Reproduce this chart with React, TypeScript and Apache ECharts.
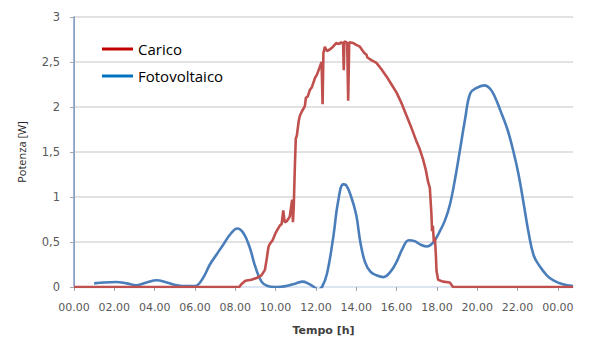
import React, { useEffect, useRef } from "react";
import * as echarts from "echarts";

// Fotovoltaico: [hour, power W]
const pvHours = [1.0, 1.5, 2.1, 2.6, 3.1, 3.6, 4.1, 4.6, 5.1, 5.6, 6.0, 6.4, 6.74, 7.1, 7.4, 7.8, 8.1, 8.4, 8.7, 9.0, 9.3, 9.6, 10.0, 10.5, 11.0, 11.35, 11.6, 11.9, 12.1, 12.3, 12.55, 12.85, 13.1, 13.35, 13.5, 13.75, 14.0, 14.2, 14.43, 14.7, 15.0, 15.35, 15.7, 16.0, 16.3, 16.6, 16.9, 17.2, 17.5, 17.8, 18.1, 18.4, 18.65, 18.9, 19.15, 19.4, 19.65, 19.95, 20.35, 20.65, 20.9, 21.15, 21.5, 21.8, 22.05, 22.3, 22.55, 22.8, 23.1, 23.45, 23.8, 24.25, 24.75];
const pvValues = [0.04, 0.05, 0.055, 0.04, 0.02, 0.05, 0.075, 0.05, 0.02, 0.01, 0.01, 0.1, 0.25, 0.37, 0.47, 0.6, 0.65, 0.6, 0.45, 0.22, 0.06, 0.01, 0.0, 0.01, 0.04, 0.06, 0.04, 0.0, -0.03, 0.0, 0.15, 0.54, 0.95, 1.14, 1.13, 1.0, 0.8, 0.5, 0.28, 0.17, 0.13, 0.11, 0.17, 0.28, 0.43, 0.52, 0.51, 0.47, 0.45, 0.49, 0.6, 0.74, 0.92, 1.2, 1.53, 1.87, 2.15, 2.21, 2.24, 2.2, 2.1, 1.96, 1.75, 1.5, 1.25, 0.93, 0.6, 0.35, 0.23, 0.13, 0.07, 0.03, 0.01];

// Carico: [hour, power W]
const loadHours = [0, 8.2, 8.3, 8.5, 8.8, 9.06, 9.3, 9.47, 9.55, 9.65, 9.72, 9.85, 10.0, 10.05, 10.2, 10.3, 10.38, 10.45, 10.55, 10.7, 10.82, 10.86, 10.9, 10.95, 11.0, 11.05, 11.15, 11.2, 11.3, 11.45, 11.5, 11.6, 11.7, 11.8, 11.95, 12.05, 12.2, 12.28, 12.33, 12.37, 12.44, 12.55, 12.69, 12.85, 13.0, 13.15, 13.25, 13.35, 13.38, 13.41, 13.5, 13.55, 13.6, 13.65, 13.85, 14.0, 14.18, 14.3, 14.4, 14.51, 14.55, 14.75, 15.0, 15.25, 15.5, 15.75, 16.0, 16.25, 16.5, 16.75, 17.0, 17.15, 17.31, 17.45, 17.56, 17.65, 17.73, 17.76, 17.8, 17.85, 17.9, 17.95, 17.98, 18.06, 18.3, 18.64, 18.8, 24.75];
const loadValues = [0, 0, 0.03, 0.07, 0.08, 0.1, 0.13, 0.19, 0.3, 0.45, 0.48, 0.52, 0.6, 0.62, 0.68, 0.7, 0.85, 0.72, 0.73, 0.78, 0.97, 0.72, 0.9, 1.3, 1.65, 1.68, 1.85, 1.9, 1.95, 2.01, 2.1, 2.12, 2.19, 2.22, 2.32, 2.36, 2.45, 2.5, 2.03, 2.6, 2.67, 2.62, 2.64, 2.67, 2.71, 2.7, 2.72, 2.7, 2.41, 2.73, 2.72, 2.71, 2.07, 2.72, 2.71, 2.69, 2.67, 2.63, 2.6, 2.58, 2.55, 2.52, 2.49, 2.42, 2.34, 2.25, 2.16, 2.04, 1.9, 1.76, 1.61, 1.53, 1.42, 1.3, 1.17, 1.1, 0.8, 0.62, 0.68, 0.5, 0.55, 0.35, 0.18, 0.08, 0.06, 0.05, 0.0, 0];

const xTickValues = [0, 2, 4, 6, 8, 10, 12, 14, 16, 18, 20, 22, 24];
const xMax = 24.75;

const seriesNames = ["Carico", "Fotovoltaico"];

export default function App() {
  const ref = useRef<HTMLDivElement>(null);
  useEffect(() => {
    if (!ref.current) return;
    const chart = echarts.init(ref.current, undefined, { renderer: "svg" });
    const labelColor = "#595959";
    const option = {
      animation: false,
      backgroundColor: "#ffffff",
      grid: { left: 74, right: 25, top: 17, bottom: 52, containLabel: false },
      legend: {
        orient: "vertical",
        left: 102,
        top: 40,
        padding: 0,
        icon: "rect",
        itemWidth: 31,
        itemHeight: 3,
        itemGap: 9,
        textStyle: { fontFamily: "Open Sans", fontSize: 15, color: "#000", lineHeight: 18 },
        data: [
          { name: seriesNames[0], itemStyle: { color: "#C00000" } },
          { name: seriesNames[1], itemStyle: { color: "#0070C0" } },
        ],
      },
      xAxis: [
        {
          type: "value",
          min: 0,
          max: xMax,
          name: "Tempo [h]",
          nameLocation: "middle",
          nameGap: 38,
          nameTextStyle: { fontFamily: "DejaVu Sans", fontSize: 11, fontWeight: "bold", color: "#404040" },
          axisLine: { show: true, lineStyle: { color: "#A6A6A6", width: 1 } },
          axisTick: { show: true, length: 4, customValues: xTickValues, lineStyle: { color: "#A6A6A6" } },
          axisLabel: {
            customValues: xTickValues,
            margin: 15,
            fontFamily: "DejaVu Sans",
            fontSize: 11,
            color: labelColor,
            formatter: (v: number) => {
              const h = Math.round(v) % 24;
              return (h < 10 ? "0" : "") + h + ".00";
            },
          },
          splitLine: { show: false },
        },
        {
          type: "value",
          position: "top",
          min: 0,
          max: xMax,
          axisLine: { show: true, lineStyle: { color: "#DCE6F2", width: 2 } },
          axisTick: { show: false },
          axisLabel: { show: false },
          splitLine: { show: false },
        },
      ],
      yAxis: [
        {
          type: "value",
          min: 0,
          max: 3,
          interval: 0.5,
          name: "Potenza [W]",
          nameLocation: "middle",
          nameRotate: 90,
          nameGap: 47,
          nameTextStyle: { fontFamily: "Open Sans", fontSize: 11, color: "#262626" },
          axisLine: { show: true, lineStyle: { color: "#A6A6A6", width: 1 } },
          axisTick: { show: true, length: 4, lineStyle: { color: "#A6A6A6" } },
          axisLabel: {
            margin: 14,
            fontFamily: "DejaVu Sans",
            fontSize: 11.5,
            color: labelColor,
            formatter: (v: number) => String(v).replace(".", ","),
          },
          splitLine: { show: true, lineStyle: { color: "#D9D9D9", width: 1.5 } },
        },
        {
          type: "value",
          position: "right",
          min: 0,
          max: 3,
          axisLine: { show: true, lineStyle: { color: "#7F9ECB", width: 1.5 } },
          axisTick: { show: false },
          axisLabel: { show: false },
          splitLine: { show: false },
        },
      ],
      series: [
        {
          name: seriesNames[0],
          type: "line",
          data: loadHours.map((h, i) => [h, loadValues[i]]),
          showSymbol: false,
          symbol: "none",
          clip: true,
          z: 3,
          lineStyle: { color: "#C0504D", width: 2.6 },
          itemStyle: { color: "#C0504D" },
        },
        {
          name: seriesNames[1],
          type: "line",
          data: pvHours.map((h, i) => [h, pvValues[i]]),
          smooth: 0.4,
          showSymbol: false,
          symbol: "none",
          clip: true,
          z: 2,
          lineStyle: { color: "#4A7EBB", width: 2.6 },
          itemStyle: { color: "#4A7EBB" },
        },
      ],
    };
    chart.setOption(option as any);
    return () => chart.dispose();
  }, []);
  return <div ref={ref} style={{ width: 598, height: 341, position: "absolute", left: 0, top: 0 }} />;
}
